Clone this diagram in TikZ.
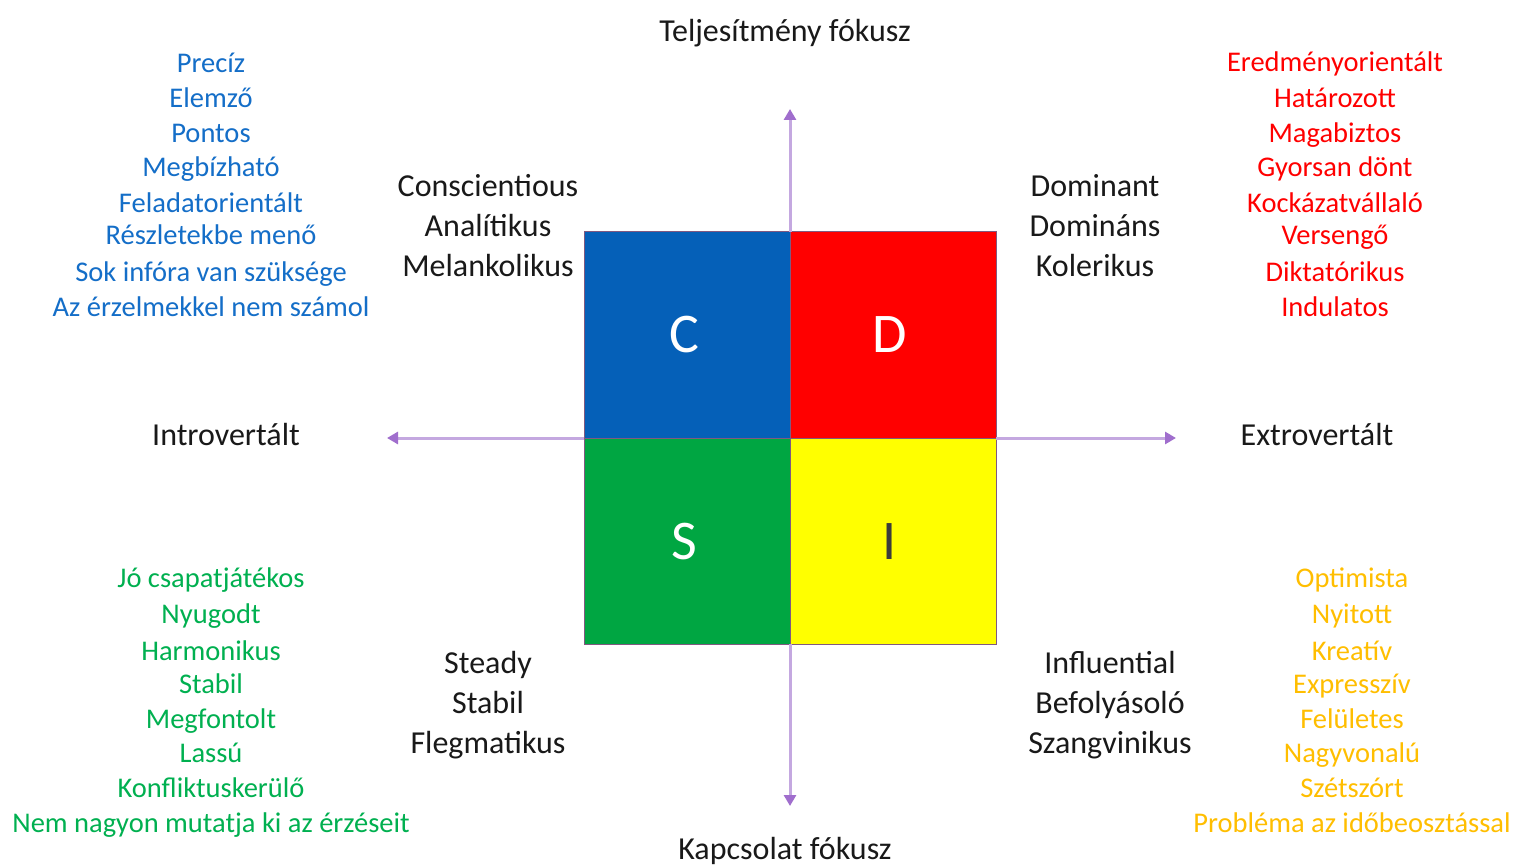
\documentclass[tikz,border=0pt]{standalone}
\usepackage{fontspec}
\setmainfont{Carlito}
\usetikzlibrary{arrows.meta}
\definecolor{qblue}{RGB}{5,96,184}
\definecolor{qred}{RGB}{255,0,0}
\definecolor{qgreen}{RGB}{0,166,66}
\definecolor{qyellow}{RGB}{255,255,0}
\definecolor{tblue}{RGB}{20,110,200}
\definecolor{tred}{RGB}{255,0,0}
\definecolor{tgreen}{RGB}{0,176,80}
\definecolor{torange}{RGB}{255,190,0}
\definecolor{axisline}{RGB}{196,168,224}
\definecolor{axistip}{RGB}{160,110,205}
\definecolor{dark}{RGB}{25,25,25}
\tikzset{
  lbl/.style={anchor=base,inner sep=0pt,text=dark,font=\fontsize{32}{38}\selectfont},
  lst/.style={anchor=base,inner sep=0pt,font=\fontsize{28.5}{34}\selectfont},
  big/.style={anchor=base,inner sep=0pt,font=\fontsize{56}{60}\selectfont},
  quad/.style={draw=gray!70!violet,line width=1pt},
  axis/.style={draw=axisline,line width=3pt,-{Triangle[length=11pt,width=12pt,color=axistip]}}
}
\begin{document}
\begin{tikzpicture}[x=1pt,y=-1pt]
\path[use as bounding box,fill=white] (0,0) rectangle (1518,866);
% quadrants
\path[quad,fill=qblue] (584,232) rectangle (790,438);
\path[quad,fill=qred] (790,232) rectangle (996,438);
\path[quad,fill=qgreen] (584,438) rectangle (790,644);
\path[quad,fill=qyellow] (790,438) rectangle (996,644);
\node[big,text=white] (lC) at (684,353) {C};
\node[big,text=white] (lD) at (890,353) {D};
\node[big,text=white] (lS) at (684,559) {S};
\node[big,text=dark!85] (lI) at (890,559) {I};
% axis anchor points
\coordinate (top) at (790,232);
\coordinate (bot) at (790,644);
\coordinate (lft) at (584,438);
\coordinate (rgt) at (996,438);
\coordinate (topend) at (790,109);
\coordinate (botend) at (790,806);
\coordinate (lftend) at (387,438);
\coordinate (rgtend) at (1176,438);
\draw[axis] (top) -- (topend);
\draw[axis] (bot) -- (botend);
\draw[axis] (lft) -- (lftend);
\draw[axis] (rgt) -- (rgtend);
% axis labels
\node[lbl] (tf) at (785,42) {Teljesítmény fókusz};
\node[lbl] (kf) at (785,859) {Kapcsolat fókusz};
\node[lbl] (intro) at (226,445) {Introvertált};
\node[lbl] (extro) at (1317,445) {Extrovertált};
% type labels
\node[lbl] (c1) at (488,197) {Conscientious};
\node[lbl] (c2) at (488,237) {Analítikus};
\node[lbl] (c3) at (488,277) {Melankolikus};
\node[lbl] (d1) at (1095,197) {Dominant};
\node[lbl] (d2) at (1095,237) {Domináns};
\node[lbl] (d3) at (1095,277) {Kolerikus};
\node[lbl] (s1) at (488,673) {Steady};
\node[lbl] (s2) at (488,713) {Stabil};
\node[lbl] (s3) at (488,753) {Flegmatikus};
\node[lbl] (i1) at (1110,673) {Influential};
\node[lbl] (i2) at (1110,713) {Befolyásoló};
\node[lbl] (i3) at (1110,753) {Szangvinikus};
% lists
\foreach \t/\y [count=\k] in {Precíz/73,Elemző/108,Pontos/143,Megbízható/177,Feladatorientált/213,Részletekbe menő/245,Sok infóra van szüksége/282,Az érzelmekkel nem számol/317}
  \node[lst,text=tblue] (cb\k) at (211,\y) {\t};
\foreach \t/\y [count=\k] in {Eredményorientált/72,Határozott/108,Magabiztos/143,Gyorsan dönt/177,Kockázatvállaló/213,Versengő/245,Diktatórikus/282,Indulatos/317}
  \node[lst,text=tred] (dr\k) at (1335,\y) {\t};
\foreach \t/\y [count=\k] in {Jó csapatjátékos/587,Nyugodt/623,Harmonikus/660,Stabil/693,Megfontolt/728,Lassú/762,Konfliktuskerülő/797,Nem nagyon mutatja ki az érzéseit/832}
  \node[lst,text=tgreen] (sg\k) at (211,\y) {\t};
\foreach \t/\y [count=\k] in {Optimista/587,Nyitott/623,Kreatív/660,Expresszív/693,Felületes/728,Nagyvonalú/762,Szétszórt/797,Probléma az időbeosztással/832}
  \node[lst,text=torange] (io\k) at (1352,\y) {\t};
\end{tikzpicture}
\end{document}
